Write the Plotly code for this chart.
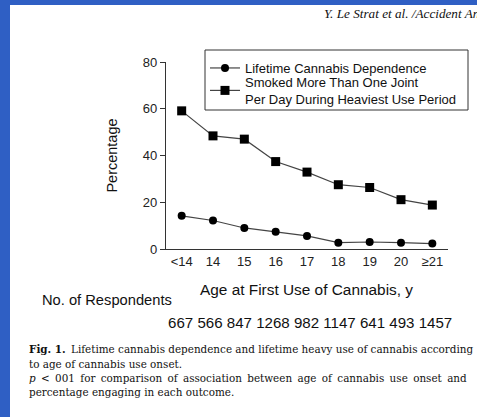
import plotly.graph_objects as go

# ---- data ----
ages = ["<14", "14", "15", "16", "17", "18", "19", "20", "≥21"]
dependence = [14.2, 12.2, 9.0, 7.4, 5.6, 2.7, 3.0, 2.7, 2.3]
heavy_use = [59.1, 48.4, 47.0, 37.4, 32.9, 27.5, 26.3, 21.1, 18.8]
respondents = [667, 566, 847, 1268, 982, 1147, 641, 493, 1457]
y_ticks = [0, 20, 40, 60, 80]

W, H = 477, 417
L, R, T, B = 166, 29, 62, 168
PW, PH = W - L - R, H - T - B

def px(x):
    return (x - L) / PW

def py(y):
    return 1 - (y - T) / PH

SANS = "Liberation Sans, Arial, sans-serif"
SERIF = "DejaVu Serif, serif"
SERIF2 = "Liberation Serif, Times New Roman, serif"

fig = go.Figure()
fig.add_trace(go.Scatter(
    x=ages, y=dependence, mode="lines+markers", name="Lifetime Cannabis Dependence",
    line=dict(color="#444", width=1.2), legend="legend",
    marker=dict(symbol="circle", size=8, color="#000"), cliponaxis=False))
fig.add_trace(go.Scatter(
    x=ages, y=heavy_use, mode="lines+markers",
    name="Smoked More Than One Joint<br>Per Day During Heaviest Use Period",
    line=dict(color="#444", width=1.2), legend="legend2",
    marker=dict(symbol="square", size=9, color="#000"), cliponaxis=False))

# white page on blue background
fig.add_shape(type="rect", xref="paper", yref="paper", layer="below",
              x0=px(10), x1=px(W + 20), y0=py(H + 20), y1=py(5),
              fillcolor="white", line=dict(width=0))
# legend frame
fig.add_shape(type="rect", xref="paper", yref="paper", layer="above",
              x0=px(205), x1=px(468), y0=py(110), y1=py(50),
              line=dict(color="#333", width=1))

S = " \u2009"  # widened space for the justified caption line
line3 = S.join(["<i>p</i>", "<", "001", "for", "comparison", "of", "association", "between",
                "age", "of", "cannabis", "use", "onset", "and"])
CAP = 10.4

annos = [
    dict(text="Age at First Use of Cannabis, y", x=px(306), y=py(289), size=15.4,
         font=SANS, xanchor="center"),
    dict(text="No. of Respondents", x=px(40), y=py(300), size=14.7, font=SANS,
         xanchor="left"),
    dict(text=" ".join(str(v) for v in respondents), x=px(166),
         y=py(322), size=15.1, font=SANS, xanchor="left"),
    dict(text="<b>Fig. 1.</b> \u2009Lifetime cannabis dependence and lifetime heavy use of cannabis according",
         x=px(27), y=py(349), size=CAP, font=SERIF, xanchor="left"),
    dict(text="to age of cannabis use onset.", x=px(27), y=py(363.5), size=CAP,
         font=SERIF, xanchor="left"),
    dict(text=line3, x=px(27), y=py(378), size=CAP, font=SERIF, xanchor="left"),
    dict(text="percentage engaging in each outcome.", x=px(27), y=py(392), size=CAP,
         font=SERIF, xanchor="left"),
    dict(text="<i>Y. Le Strat et al. /Accident An</i>", x=px(322),
         y=py(14), size=13.2, font=SERIF2, xanchor="left"),
]
for a in annos:
    fig.add_annotation(text=a["text"], xref="paper", yref="paper", x=a["x"], y=a["y"],
                       xanchor=a["xanchor"], yanchor="middle", showarrow=False,
                       font=dict(family=a["font"], size=a["size"], color="#111"))

leg_common = dict(xanchor="left", yanchor="middle", bgcolor="rgba(0,0,0,0)",
                  borderwidth=0, itemwidth=30,
                  font=dict(family=SANS, size=13, color="#111"))

fig.update_layout(
    width=W, height=H,
    margin=dict(l=L, r=R, t=T, b=B, pad=0),
    paper_bgcolor="#2f5fc4", plot_bgcolor="rgba(0,0,0,0)",
    showlegend=True,
    legend=dict(x=px(205), y=py(68), **leg_common),
    legend2=dict(x=px(205), y=py(90.5), **leg_common),
    xaxis=dict(type="category", categoryorder="array", categoryarray=ages,
               range=[-0.5, 8.5], showline=True, linecolor="#333", linewidth=1.2,
               ticks="", showgrid=False, zeroline=False,
               tickfont=dict(family=SANS, size=13, color="#222")),
    yaxis=dict(range=[0, 80], tickvals=y_ticks, showline=True, linecolor="#333",
               linewidth=1.2, ticks="outside", ticklen=5, tickcolor="#333",
               showgrid=False, zeroline=False,
               tickfont=dict(family=SANS, size=13, color="#222"),
               title=dict(text="Percentage", standoff=21,
                          font=dict(family=SANS, size=14.5, color="#111"))),
)
fig.write_html("out.html", config={"displayModeBar": False},
               post_script="document.body.style.margin='0';document.body.style.overflow='hidden';")
